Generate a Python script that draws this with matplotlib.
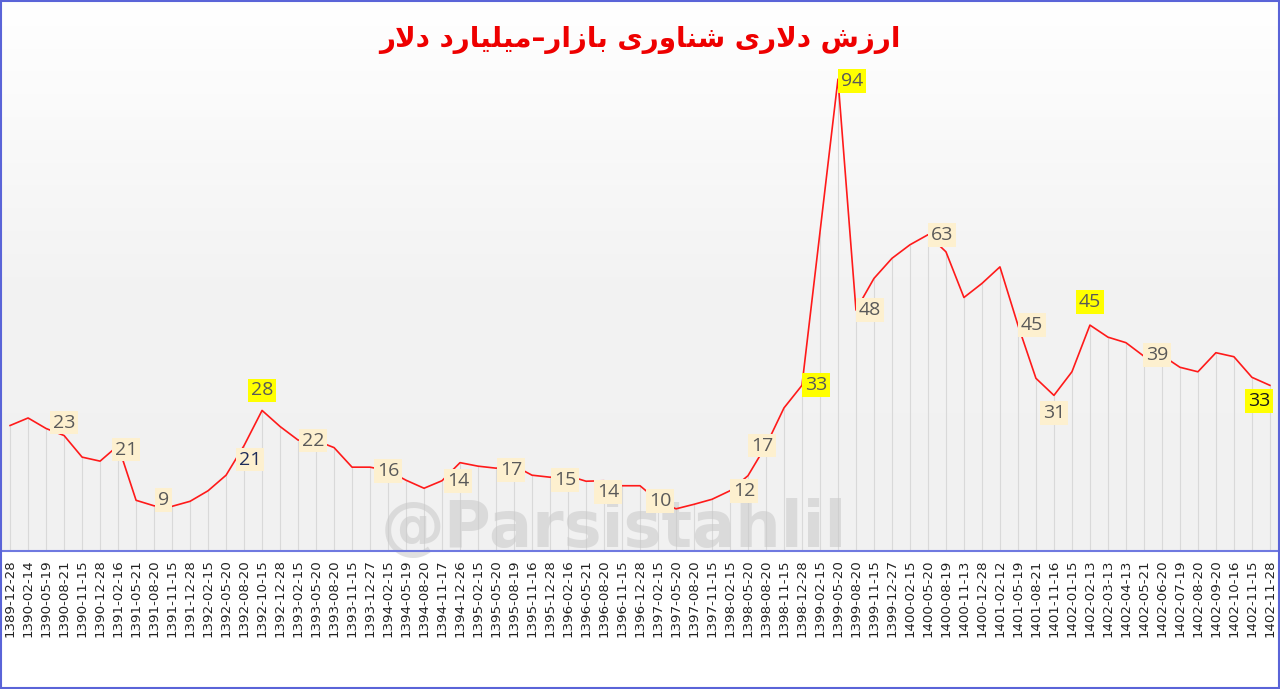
import matplotlib
matplotlib.use("Agg")
import matplotlib.pyplot as plt
import numpy as np
from matplotlib.colors import LinearSegmentedColormap

dates = ["1389-12-28","1390-02-14","1390-05-19","1390-08-21","1390-11-15","1390-12-28","1391-02-16","1391-05-21",
"1391-08-20","1391-11-15","1391-12-28","1392-02-15","1392-05-20","1392-08-20","1392-10-15","1392-12-28",
"1393-02-15","1393-05-20","1393-08-20","1393-11-15","1393-12-27","1394-02-15","1394-05-19","1394-08-20",
"1394-11-17","1394-12-26","1395-02-15","1395-05-20","1395-08-19","1395-11-16","1395-12-28","1396-02-16",
"1396-05-21","1396-08-20","1396-11-15","1396-12-28","1397-02-15","1397-05-20","1397-08-20","1397-11-15",
"1398-02-15","1398-05-20","1398-08-20","1398-11-15","1398-12-28","1399-02-15","1399-05-20","1399-08-20",
"1399-11-15","1399-12-27","1400-02-15","1400-05-20","1400-08-19","1400-11-13","1400-12-28","1401-02-12",
"1401-05-19","1401-08-21","1401-11-16","1402-01-15","1402-02-13","1402-03-13","1402-04-13","1402-05-21",
"1402-06-20","1402-07-19","1402-08-20","1402-09-20","1402-10-16","1402-11-15","1402-11-28"]

values = [25, 26.5, 24.4, 23, 18.7, 17.9, 21, 10.1, 9, 8.9, 9.9, 12, 15.1, 21, 28, 24.8, 22.1, 22, 20.6,
          16.7, 16.7, 16, 14.1, 12.5, 14, 17.6, 16.9, 16.5, 17, 15.1, 14.7, 15, 13.9, 14, 13, 13, 10, 8.4,
          9.3, 10.3, 12, 15, 21, 28.5, 33, 63.5, 94, 48, 54.3, 58.3, 61, 63, 59.6, 50.5, 53.3, 56.6, 45,
          34.4, 31, 35.7, 45, 42.6, 41.5, 38.8, 39, 36.6, 35.7, 39.5, 38.7, 34.6, 33]

label_idx = [3, 6, 8, 13, 14, 17, 21, 24, 28, 31, 33, 36, 40, 42, 44, 46, 47, 51, 56, 58, 60, 64, 70]
label_txt = ["23","21","9","21","28","22","16","14","17","15","14","10","12","17","33","94","48","63","45","31","45","39","33"]
highlight = {14, 44, 46, 60, 70}
offsets = {3:(0,13), 6:(8,-4), 8:(9,6), 13:(6,-14), 14:(0,20), 17:(-3,0), 21:(0,0), 24:(16,0),
           28:(-3,-4), 31:(-3,-4), 33:(4,-11), 36:(2,0), 40:(14,0), 42:(-4,0), 44:(14,0), 46:(14,-2),
           47:(14,0), 51:(14,0), 56:(14,0), 58:(0,-18), 60:(0,23), 64:(-5,0), 70:(-11,-16)}

RJ = {'ا':(0xFE8D,0xFE8E),'د':(0xFEA9,0xFEAA),'ر':(0xFEAD,0xFEAE),'ز':(0xFEAF,0xFEB0),'و':(0xFEED,0xFEEE)}
DJ = {'ب':(0xFE8F,0xFE90,0xFE91,0xFE92),'ش':(0xFEB5,0xFEB6,0xFEB7,0xFEB8),'ل':(0xFEDD,0xFEDE,0xFEDF,0xFEE0),
      'م':(0xFEE1,0xFEE2,0xFEE3,0xFEE4),'ن':(0xFEE5,0xFEE6,0xFEE7,0xFEE8),'ی':(0xFBFC,0xFBFD,0xFBFE,0xFBFF)}
def shape(s):
    out = []
    i = 0
    n = len(s)
    def isar(c): return c in RJ or c in DJ
    while i < n:
        c = s[i]
        prev = s[i-1] if i > 0 else ''
        jp = prev in DJ
        if c == 'ل' and i+1 < n and s[i+1] == 'ا':
            out.append(chr(0xFEFC if jp else 0xFEFB)); i += 2; continue
        nxt = s[i+1] if i+1 < n else ''
        if c in RJ:
            out.append(chr(RJ[c][1] if jp else RJ[c][0]))
        elif c in DJ:
            jn = isar(nxt)
            f = DJ[c]
            out.append(chr(f[3] if (jp and jn) else f[1] if jp else f[2] if jn else f[0]))
        else:
            out.append(c)
        i += 1
    return ''.join(out[::-1])

title = "ارزش دلاری شناوری بازار–میلیارد دلار"

fig = plt.figure(figsize=(12.8, 6.89), dpi=100)
fig.patch.set_facecolor("white")
ax = fig.add_axes([2/1280, 1-551/689, 1276/1280, 549/689])
x = np.arange(len(values))
ax.set_xlim(-0.45, len(values)-0.55)
ymax = 549/5.02
ax.set_ylim(0, ymax)

grad = np.linspace(0, 1, 256).reshape(-1, 1)
cm = LinearSegmentedColormap.from_list("g", ["#f1f1f1", "#f3f3f3", "#ffffff"])
ax.imshow(grad, extent=(-0.45, len(values)-0.55, 0, ymax), origin="lower", aspect="auto", cmap=cm, zorder=0)

ax.vlines(x, 0, values, color="#d9d9d9", lw=0.8, zorder=1)
ax.plot(x, values, color="#ff1a1a", lw=1.2, zorder=3)

ax.text(612/1276, 0.04, "@Parsistahlil", transform=ax.transAxes, ha="center", va="center",
        fontsize=46, fontweight="bold", family="DejaVu Sans", color="#c8c8c8", alpha=0.55, zorder=2)

for idx, t in zip(label_idx, label_txt):
    dx, dy = offsets[idx]
    hl = idx in highlight
    col = "#1f2d5a" if idx == 13 else ("#1a1a1a" if idx == 70 else "#595959")
    ax.annotate(t, (x[idx], values[idx]), xytext=(dx, dy), textcoords="offset pixels",
                ha="center", va="center", fontsize=14, family="Open Sans", color=col,
                bbox=dict(boxstyle="square,pad=0.15", fc="#ffff00" if hl else "#fdf0cf", ec="none"),
                zorder=5)

ax.set_xticks(x)
ax.set_xticklabels(dates, rotation=90, fontsize=9.6, family="DejaVu Sans", color="#222222")
ax.tick_params(axis="x", length=0, pad=6)
ax.set_yticks([])
for s in ["top", "left", "right"]:
    ax.spines[s].set_visible(False)
ax.spines["bottom"].set_color("#6f79e0")
ax.spines["bottom"].set_linewidth(1.5)

fig.text(0.5, 1-40/689, shape(title), ha="center", va="center", fontsize=20, fontweight="bold",
         family="DejaVu Sans", color="#ee0000")

border = plt.Rectangle((0.001, 0.001), 0.998, 0.997, transform=fig.transFigure, fill=False,
                       ec="#5a64d8", lw=1.5)
fig.add_artist(border)

fig.savefig("out.png", dpi=100)
